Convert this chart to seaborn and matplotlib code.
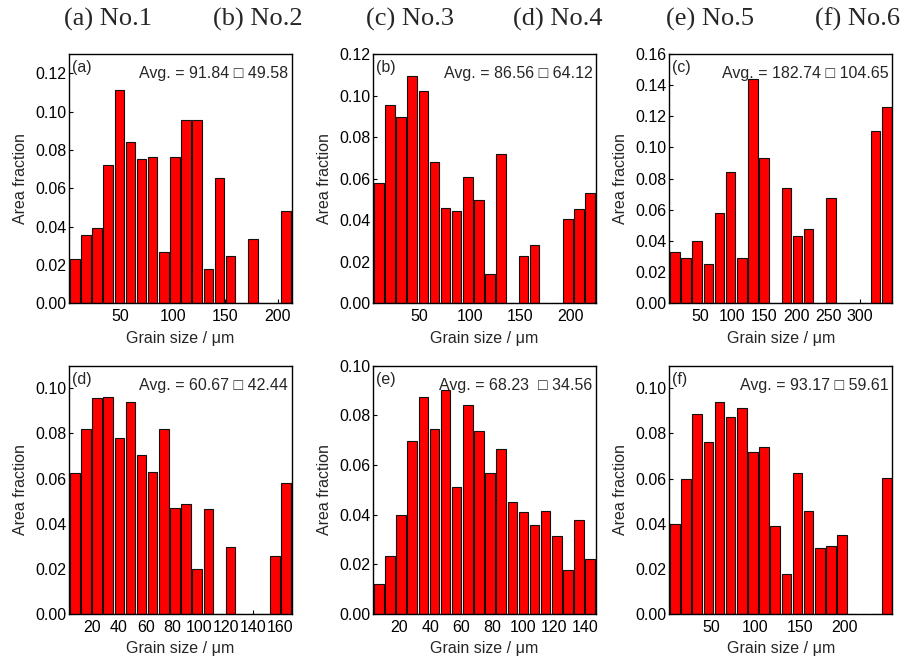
import numpy as np
import pandas as pd
import seaborn as sns
import matplotlib
matplotlib.use("Agg")
import matplotlib.pyplot as plt

# area fraction per bin (20 bins each)
frac_a = [0.0230, 0.0357, 0.0391, 0.0723, 0.1113, 0.0840, 0.0755, 0.0765, 0.0266, 0.0763,
          0.0955, 0.0955, 0.0179, 0.0654, 0.0245, 0.0, 0.0336, 0.0, 0.0, 0.0480]
frac_b = [0.0581, 0.0953, 0.0895, 0.1095, 0.1022, 0.0678, 0.0459, 0.0446, 0.0608, 0.0496,
          0.0140, 0.0720, 0.0, 0.0228, 0.0281, 0.0, 0.0, 0.0404, 0.0456, 0.0531]
frac_c = [0.0329, 0.0290, 0.0402, 0.0251, 0.0580, 0.0844, 0.0290, 0.1439, 0.0934, 0.0,
          0.0741, 0.0432, 0.0477, 0.0, 0.0677, 0.0, 0.0, 0.0, 0.1106, 0.1261]
frac_d = [0.0626, 0.0820, 0.0956, 0.0963, 0.0781, 0.0939, 0.0705, 0.0631, 0.0820, 0.0468,
          0.0489, 0.0199, 0.0464, 0.0, 0.0298, 0.0, 0.0, 0.0, 0.0256, 0.0581]
frac_e = [0.0119, 0.0235, 0.0399, 0.0698, 0.0872, 0.0746, 0.0901, 0.0513, 0.0840, 0.0737,
          0.0566, 0.0666, 0.0450, 0.0409, 0.0360, 0.0413, 0.0313, 0.0177, 0.0377, 0.0221]
frac_f = [0.0397, 0.0597, 0.0886, 0.0764, 0.0938, 0.0874, 0.0914, 0.0716, 0.0739, 0.0390,
          0.0177, 0.0626, 0.0456, 0.0292, 0.0300, 0.0350, 0.0, 0.0, 0.0, 0.0603]

# grain size range covered by the bins (um)
size_range = [(2, 213), (4, 225), (2, 350), (3, 169), (3, 147), (3, 254)]
y_max = [0.13, 0.12, 0.16, 0.11, 0.10, 0.11]
x_ticks = [[50, 100, 150, 200], [50, 100, 150, 200], [50, 100, 150, 200, 250, 300],
           [20, 40, 60, 80, 100, 120, 140, 160], [20, 40, 60, 80, 100, 120, 140],
           [50, 100, 150, 200]]
panel_tags = ["(a)", "(b)", "(c)", "(d)", "(e)", "(f)"]
avg_text = ["Avg. = 91.84 \u25a1 49.58", "Avg. = 86.56 \u25a1 64.12", "Avg. = 182.74 \u25a1 104.65",
            "Avg. = 60.67 \u25a1 42.44", "Avg. = 68.23  \u25a1 34.56", "Avg. = 93.17 \u25a1 59.61"]
titles = ["(a) No.1", "(b) No.2", "(c) No.3", "(d) No.4", "(e) No.5", "(f) No.6"]
title_x = [108, 258, 410, 558, 710, 858]

sns.set_theme(style="ticks")
plt.rcParams["font.family"] = ["Liberation Sans", "DejaVu Sans"]
plt.rcParams["font.size"] = 11.5

fig = plt.figure(figsize=(9.04, 6.63), dpi=100, facecolor="white")
W, H = 904, 663
lefts = [69.3, 373.3, 669.3]
widths = [222.4, 222.4, 223.0]
rows = [(54, 303.3), (365.7, 614)]

all_frac = [frac_a, frac_b, frac_c, frac_d, frac_e, frac_f]
for i, frac in enumerate(all_frac):
    r, c = divmod(i, 3)
    top, bot = rows[r]
    ax = fig.add_axes([lefts[c] / W, 1 - bot / H, widths[c] / W, (bot - top) / H])
    lo, hi = size_range[i]
    n = len(frac)
    w = (hi - lo) / n
    df = pd.DataFrame({"size": lo + w * (np.arange(n) + 0.5), "frac": frac})
    sns.histplot(data=df, x="size", weights="frac", bins=n, binrange=(lo, hi),
                 shrink=0.86, color="#ff0000", edgecolor="#111111", linewidth=0.8,
                 alpha=1, ax=ax)
    ax.set_xlim(lo, hi)
    ax.set_ylim(0, y_max[i])
    ax.set_xticks(x_ticks[i])
    ax.set_yticks(np.arange(0, y_max[i] + 0.001, 0.02))
    ax.yaxis.set_major_formatter(matplotlib.ticker.FormatStrFormatter("%.2f"))
    ax.tick_params(direction="in", length=3, width=0.8, labelsize=11.5, colors="black")
    ax.tick_params(axis="x", pad=4)
    ax.tick_params(axis="y", pad=2)
    for s in ax.spines.values():
        s.set_color("black")
        s.set_linewidth(1.0)
    ax.set_xlabel("Grain size / \u03bcm", fontsize=11.5, labelpad=5)
    ax.set_ylabel("Area fraction", fontsize=11.5, labelpad=5)
    ax.text(0.012, 0.975, panel_tags[i], transform=ax.transAxes, ha="left", va="top",
            fontsize=11.5)
    ax.text(0.985, 0.95, avg_text[i], transform=ax.transAxes, ha="right", va="top",
            fontsize=11.5)

for t, x in zip(titles, title_x):
    fig.text(x / W, 1 - 19 / H, t, ha="center", va="center", fontsize=19,
             family=["Liberation Serif", "DejaVu Serif"])

fig.savefig("out.png", dpi=100, facecolor="white")
